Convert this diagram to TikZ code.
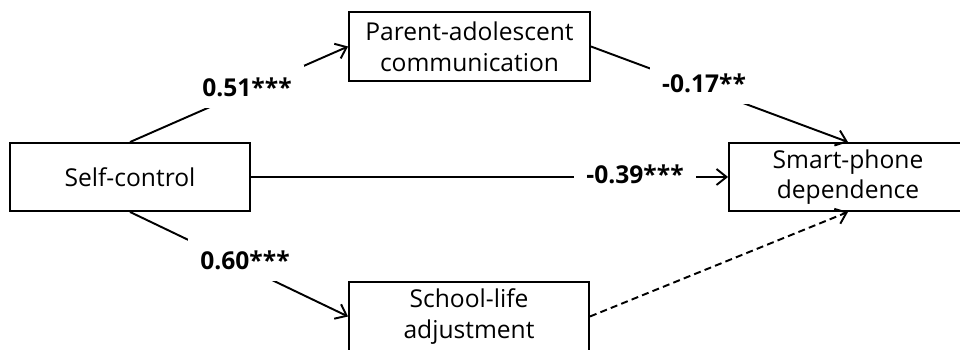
\documentclass[tikz,border=0pt]{standalone}
\usepackage{fontspec}
\setmainfont{Open Sans}
\usepackage{tikz}
\usetikzlibrary{arrows.meta,positioning,calc}

\begin{document}
\begin{tikzpicture}[x=0.02cm,y=-0.02cm,
    box/.style={draw,line width=1.1pt,align=center,font=\fontsize{14}{17.5}\selectfont},
    path/.style={line width=1.1pt,-{Straight Barb[length=0.2cm,width=0.32cm]}},
    coef/.style={fill=white,inner xsep=0.25cm,inner ysep=0.24cm,font=\fontsize{14}{16}\selectfont\bfseries}]
    \useasboundingbox (0,0) rectangle (960,350);

    % Variables
    \node[box,minimum width=4.8cm,minimum height=1.36cm] (selfctrl) at (130,177) {Self-control};
    \node[box,minimum width=4.82cm,minimum height=1.38cm] (parcomm) at (469.5,46.5) {Parent-adolescent\\communication};
    \node[box,minimum width=4.8cm,minimum height=1.38cm] (school) at (469,316.5) {School-life\\adjustment};
    \node[box,minimum width=4.76cm,minimum height=1.36cm] (smart) at (848,177) {Smart-phone\\dependence};

    % Paths
    \draw[path] (selfctrl.north) -- (parcomm.west);
    \draw[path] (selfctrl.south) -- (school.west);
    \draw[path] (selfctrl.east) -- (smart.west);
    \draw[path] (parcomm.east) -- (smart.north);
    \draw[path,dash pattern=on 4pt off 2.4pt] (school.east) -- (smart.south);

    % Coefficients
    \node[coef] (c51) at (247,87) {0.51***};
    \node[coef] (c60) at (245,260) {0.60***};
    \node[coef] (c39) at (635,174) {-0.39***};
    \node[coef] (c17) at (704,83) {-0.17**};
\end{tikzpicture}
\end{document}
